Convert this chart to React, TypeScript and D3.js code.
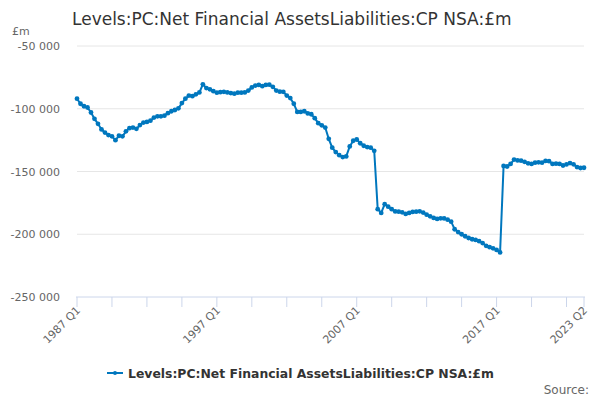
import React from "react";
import { scaleLinear, line } from "d3";

const title = "Levels:PC:Net Financial AssetsLiabilities:CP NSA:£m";
const unitLabel = "£m";
const seriesName = "Levels:PC:Net Financial AssetsLiabilities:CP NSA:£m";
const sourceLabel = "Source:";

const startYear = 1987;
const labelQuarters = ["1987 Q1", "1997 Q1", "2007 Q1", "2017 Q1", "2023 Q2"];
const yTicks = [-50000, -100000, -150000, -200000, -250000];

// quarterly values in £ thousand millions (×1000 below)
const values = [
  -92, -96, -98, -99, -103, -108, -112, -116.5, -119, -121,
  -122, -125, -121.5, -122, -118, -115.5, -115, -116, -113, -111,
  -110.5, -109.5, -107, -106, -106, -105.5, -103.5, -102, -101, -99.7,
  -95.5, -92, -89.5, -90, -88.5, -87, -80.5, -83.5, -84.5, -86,
  -87.2, -86.8, -86.5, -87, -87.5, -88, -87.2, -87.2, -87, -85.5,
  -83, -81.5, -81, -82, -81, -80.8, -82.5, -85.5, -86.4, -86.5,
  -89.5, -91.5, -96, -102.5, -102.5, -102, -103.7, -104.4, -107.5, -111.5,
  -113.2, -115, -124, -131, -134.5, -137, -138.5, -138, -130, -125.5,
  -124.5, -127.5, -129.5, -130.5, -131, -133.5, -180, -183, -176, -178,
  -180, -181.8, -182, -182.5, -183.8, -183, -182.2, -182, -181.7, -182.7,
  -184.4, -185.7, -187, -187.8, -187.3, -187.4, -188.4, -190, -196, -198.3,
  -200, -201.6, -203, -204, -204.5, -205.5, -207, -209.2, -210.3, -211.2,
  -212.5, -214.5, -145.6, -146, -144, -140.5, -141.2, -141.4, -142.3, -143.5,
  -144, -143, -142.7, -143, -141.6, -141.8, -144, -143.8, -144, -145.2,
  -144.4, -143.3, -144.3, -146.5, -147.2, -147,
];

const data = values.map((v, i) => ({
  i,
  label: `${startYear + Math.floor(i / 4)} Q${(i % 4) + 1}`,
  value: v * 1000,
}));

const W = 600;
const H = 400;
const left = 77;
const right = 584;
const top = 46;
const bottom = 297;
const blue = "#0077be";
const font = "'DejaVu Sans', sans-serif";

const fmt = (v: number) =>
  (v < 0 ? "-" : "") + Math.abs(v).toString().replace(/\B(?=(\d{3})+(?!\d))/g, " ");

const App: React.FC = () => {
  const x = scaleLinear().domain([0, data.length - 1]).range([left, right]);
  const y = scaleLinear().domain([-250000, -50000]).range([bottom, top]);
  const path = line<{ i: number; value: number }>()
    .x((d) => x(d.i))
    .y((d) => y(d.value))(data);

  const tickIdx = data.filter((d) => d.i % 10 === 0).map((d) => d.i);
  tickIdx.push(data.length - 1);
  const labelled = data.filter((d) => labelQuarters.includes(d.label));

  return (
    <svg
      width={W}
      height={H}
      style={{ position: "absolute", left: 0, top: 0, fontFamily: font }}
    >
      <rect width={W} height={H} fill="#fff" />
      <text x={72} y={25} fontSize={17} fill="#333">
        {title}
      </text>
      <text x={12} y={35} fontSize={11} fill="#666">
        {unitLabel}
      </text>

      {yTicks.map((t) => (
        <g key={t}>
          {t !== -250000 && (
            <line x1={left} x2={right} y1={y(t)} y2={y(t)} stroke="#e6e6e6" />
          )}
          <text
            x={60}
            y={y(t) + 4}
            fontSize={11}
            fill="#666"
            textAnchor="end"
          >
            {fmt(t)}
          </text>
        </g>
      ))}

      <line x1={left - 1} x2={right + 1} y1={bottom} y2={bottom} stroke="#ccd6eb" />
      {tickIdx.map((i) => (
        <line
          key={i}
          x1={x(i)}
          x2={x(i)}
          y1={bottom}
          y2={bottom + 10}
          stroke="#ccd6eb"
        />
      ))}
      {labelled.map((d) => (
        <text
          key={d.label}
          transform={`translate(${x(d.i) + 4},${bottom + 14}) rotate(-45)`}
          fontSize={11}
          fill="#666"
          textAnchor="end"
        >
          {d.label}
        </text>
      ))}

      <path d={path ?? ""} fill="none" stroke={blue} strokeWidth={2} />
      {data.map((d) => (
        <circle key={d.i} cx={x(d.i)} cy={y(d.value)} r={2.4} fill={blue} />
      ))}

      <g transform="translate(107,373)">
        <line x1={0} x2={16} y1={0} y2={0} stroke={blue} strokeWidth={2} />
        <circle cx={8} cy={0} r={2} fill={blue} />
        <text x={21} y={5} fontSize={12.4} fontWeight="bold" fill="#333">
          {seriesName}
        </text>
      </g>
      <text x={589} y={394} fontSize={12} fill="#666" textAnchor="end">
        {sourceLabel}
      </text>
    </svg>
  );
};

export default App;
